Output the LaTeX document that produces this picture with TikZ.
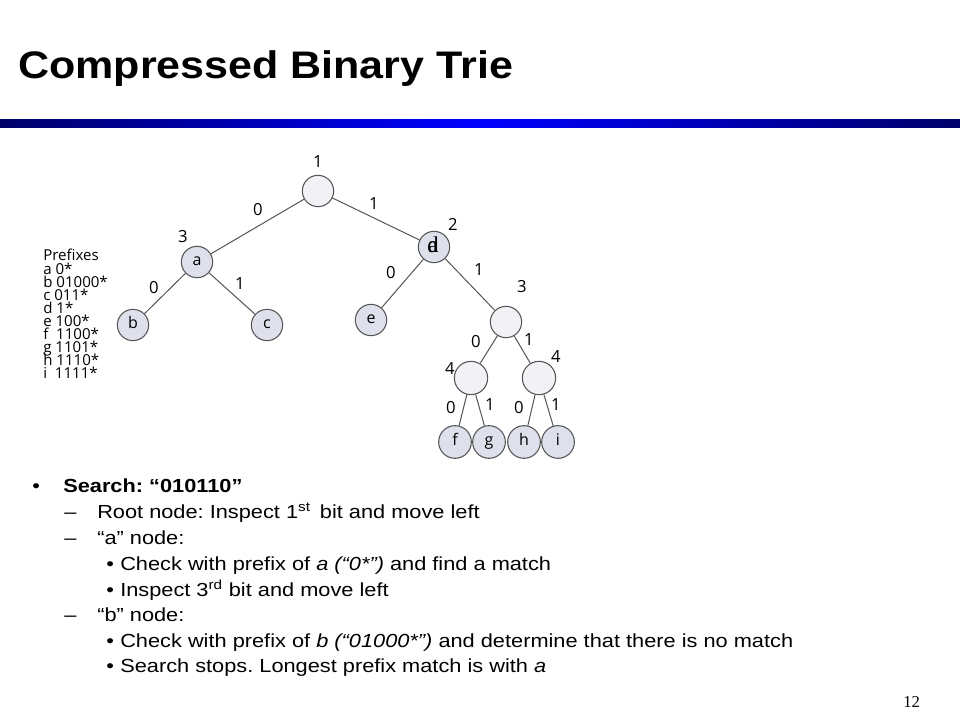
\documentclass[tikz,border=0pt]{standalone}
\usepackage{fontspec}
\setmainfont{Liberation Sans}
\newfontfamily\titlefont[FakeStretch=1.12]{Liberation Sans}
\newfontfamily\bodyfont[FakeStretch=1.15]{Liberation Sans}
\newfontfamily\treefont{Open Sans}
\newfontfamily\seriffont{Liberation Serif}
\definecolor{navyc}{RGB}{0,0,105}
\definecolor{bluec}{RGB}{0,0,255}
\definecolor{letfill}{RGB}{222,225,236}
\definecolor{emptyfill}{RGB}{242,242,246}
\definecolor{edgec}{RGB}{85,85,85}
\tikzset{
  tnode/.style={circle, draw=edgec, line width=0.8pt, minimum size=23.5pt, inner sep=0pt, fill=letfill, font=\treefont\fontsize{12}{13}\selectfont, text height=1.05ex, text depth=0pt},
  enode/.style={tnode, fill=emptyfill},
  lnode/.style={tnode, minimum size=24.5pt},
  elabel/.style={font=\treefont\fontsize{12.5}{13}\selectfont, inner sep=0pt},
  tedge/.style={draw=edgec, line width=0.75pt},
  pfx/.style={anchor=base west, inner sep=0pt, font=\treefont\fontsize{11.3}{12}\selectfont},
  body/.style={anchor=base west, inner sep=0pt, font=\bodyfont\fontsize{14.2}{16}\selectfont},
  bul/.style={anchor=base west, inner sep=0pt, font=\bodyfont\fontsize{14.2}{16}\selectfont}
}
\frenchspacing
\begin{document}
\begin{tikzpicture}[x=0.75pt,y=-0.75pt]
\useasboundingbox (0,0) rectangle (960,720);
\fill[white] (0,0) rectangle (960,720);
% title
\node[anchor=base west, inner sep=0pt, font=\titlefont\bfseries\fontsize{28.8}{32}\selectfont] (title) at (18,79) {Compressed Binary Trie};
% bar
\fill[left color=navyc, right color=navyc, middle color=bluec] (0,120) rectangle (960,128);
% tree nodes
\node[enode] (root) at (318,191) {};
\node[tnode] (a) at (197,262) {a};
\node[tnode] (b) at (133,325) {b};
\node[tnode] (c) at (267,325) {c};
\node[tnode] (d) at (434,247) {};
\node[inner sep=0pt, font=\seriffont\fontsize{17}{18}\selectfont] (dtext) at (433,245) {\makebox[0pt]{d}\makebox[0pt]{a}};
\node[tnode] (e) at (371,320) {e};
\node[enode] (n3) at (506,322) {};
\node[enode, minimum size=25pt] (n4l) at (471,378) {};
\node[enode, minimum size=25pt] (n4r) at (539,378) {};
\node[lnode] (f) at (455,442) {f};
\node[lnode] (g) at (489,442) {g};
\node[lnode] (h) at (524,442) {h};
\node[lnode] (i) at (558,442) {i};
% edges
\draw[tedge] (root) -- (a);
\draw[tedge] (root) -- (d);
\draw[tedge] (a) -- (b);
\draw[tedge] (a) -- (c);
\draw[tedge] (d) -- (e);
\draw[tedge] (d) -- (n3);
\draw[tedge] (n3) -- (n4l);
\draw[tedge] (n3) -- (n4r);
\draw[tedge] (n4l) -- (f);
\draw[tedge] (n4l) -- (g);
\draw[tedge] (n4r) -- (h);
\draw[tedge] (n4r) -- (i);
% labels
\node[elabel] (l1) at (318,162) {1};
\node[elabel] (l2) at (258,210) {0};
\node[elabel] (l3) at (374,204) {1};
\node[elabel] (l4) at (183,237) {3};
\node[elabel] (l5) at (453,224) {2};
\node[elabel] (l6) at (154,288) {0};
\node[elabel] (l7) at (240,284) {1};
\node[elabel] (l8) at (391,273) {0};
\node[elabel] (l9) at (479,270) {1};
\node[elabel] (l10) at (522,287) {3};
\node[elabel] (l11) at (476,342) {0};
\node[elabel] (l12) at (529,340) {1};
\node[elabel] (l13) at (450,369) {4};
\node[elabel] (l14) at (556,357) {4};
\node[elabel] (l15) at (451,408) {0};
\node[elabel] (l16) at (490,405) {1};
\node[elabel] (l17) at (519,408) {0};
\node[elabel] (l18) at (556,405) {1};
% prefixes
\foreach \t [count=\k] in {Prefixes,a 0*,b 01000*,c 011*,d 1*,e 100*,f\ \ 1100*,g 1101*,h 1110*,i\ \ 1111*}{
  \node[pfx] (p\k) at (43,{261+13.1*(\k-1)}) {\t};
}
% body text
\node[bul] (b1) at (32,492) {•};
\node[body] (t1) at (63,492) {\bfseries Search: “010110”};
\node[bul] (b2) at (64,518) {–};
\node[body] (t2) at (97,518) {Root node: Inspect 1\textsuperscript{st}\, bit and move left};
\node[bul] (b3) at (64,544) {–};
\node[body] (t3) at (97,544) {“a” node:};
\node[bul] (b4) at (106,570) {•};
\node[body] (t4) at (120,570) {Check with prefix of \textit{a (“0*”)} and find a match};
\node[bul] (b5) at (106,596) {•};
\node[body] (t5) at (120,596) {Inspect 3\textsuperscript{rd} bit and move left};
\node[bul] (b6) at (64,621) {–};
\node[body] (t6) at (97,621) {“b” node:};
\node[bul] (b7) at (106,647) {•};
\node[body] (t7) at (120,647) {Check with prefix of \textit{b (“01000*”)} and determine that there is no match};
\node[bul] (b8) at (106,672) {•};
\node[body] (t8) at (120,672) {Search stops. Longest prefix match is with \textit{a}};
% page number
\node[anchor=base west, inner sep=0pt, font=\seriffont\fontsize{12.5}{14}\selectfont] (pg) at (903,707) {12};
\end{tikzpicture}
\end{document}
